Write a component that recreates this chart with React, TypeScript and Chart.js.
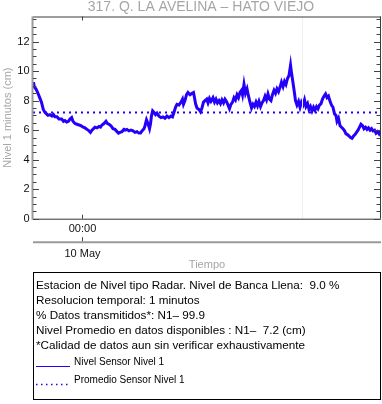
import React, { useEffect, useRef } from "react";
import { Chart, registerables } from "chart.js";

Chart.register(...registerables);

const TITLE = "317. Q. LA AVELINA – HATO VIEJO";
const Y_TITLE = "Nivel 1 minutos (cm)";
const X_TITLE = "Tiempo";
const X_TICK_HOURS = [0];
const X_TICK_LABELS = ["00:00"];
const X_DATE_LABELS = ["10 May"];
const X_FAINT_GRID = [24];
const X_MIN = -5.3;
const X_MAX = 32.6;
const Y_MIN = 0;
const Y_MAX = 13.7;
const Y_LABELS = [0, 2, 4, 6, 8, 10, 12];
const Y_MINOR_STEP = 0.5;
const MEAN_LEVEL = 7.2;

// hours relative to 10 May 00:00
const HOURS = [
  -5.3, -5.25, -5.14, -4.98, -4.76, -4.54, -4.38, -4.18, -4.0, -3.83, -3.67, -3.45, -3.24, -3.07, -2.91, -2.69,
  -2.47, -2.18, -1.98, -1.82, -1.63, -1.44, -1.27, -1.09, -0.95, -0.73, -0.51, -0.29, -0.08, 0.17, 0.36, 0.58,
  0.8, 0.96, 1.12, 1.29, 1.45, 1.67, 1.88, 2.05, 2.21, 2.43, 2.65, 2.81, 2.97, 3.19, 3.41, 3.63,
  3.85, 4.01, 4.17, 4.39, 4.61, 4.77, 4.93, 5.15, 5.37, 5.59, 5.81, 6.02, 6.24, 6.41, 6.57, 6.79,
  6.9, 7.06, 7.22, 7.39, 7.49, 7.6, 7.73, 7.88, 8.04, 8.2, 8.42, 8.64, 8.86, 9.07, 9.29, 9.51,
  9.73, 9.89, 10.05, 10.22, 10.38, 10.6, 10.82, 10.98, 11.09, 11.25, 11.42, 11.58, 11.8, 12.02, 12.18, 12.29,
  12.4, 12.56, 12.78, 12.94, 13.1, 13.27, 13.43, 13.62, 13.76, 13.92, 14.08, 14.3, 14.47, 14.63, 14.79, 14.96,
  15.12, 15.28, 15.45, 15.61, 15.77, 15.94, 16.1, 16.26, 16.43, 16.59, 16.75, 16.92, 17.08, 17.24, 17.41, 17.52,
  17.68, 17.84, 18.01, 18.17, 18.33, 18.5, 18.66, 18.82, 18.99, 19.15, 19.31, 19.48, 19.64, 19.8, 19.97, 20.13,
  20.29, 20.46, 20.62, 20.78, 20.95, 21.11, 21.27, 21.44, 21.6, 21.76, 21.93, 22.09, 22.25, 22.42, 22.58, 22.75,
  22.85, 23.02, 23.18, 23.29, 23.45, 23.62, 23.78, 23.94, 24.11, 24.27, 24.43, 24.6, 24.76, 24.92, 25.09, 25.25,
  25.41, 25.58, 25.74, 25.9, 26.07, 26.23, 26.39, 26.56, 26.72, 26.88, 27.05, 27.21, 27.37, 27.54, 27.7, 27.81,
  27.97, 28.14, 28.3, 28.46, 28.63, 28.79, 28.95, 29.12, 29.28, 29.44, 29.61, 29.77, 29.93, 30.1, 30.26, 30.42,
  30.59, 30.75, 30.92, 31.08, 31.24, 31.41, 31.57, 31.73, 31.9, 32.06, 32.22, 32.39, 32.55,
];

// level, cm
const LEVEL = [
  8.95, 9.25, 8.9, 8.8, 8.5, 8.15, 7.9, 7.4, 7.2, 7.1, 7.0, 7.05, 6.95, 7.05, 6.9, 6.9,
  6.75, 6.75, 6.6, 6.65, 6.55, 6.6, 6.75, 6.85, 6.6, 6.45, 6.4, 6.35, 6.3, 6.2, 6.15, 6.05,
  5.95, 5.85, 6.0, 6.1, 6.2, 6.15, 6.25, 6.2, 6.35, 6.45, 6.6, 6.45, 6.4, 6.3, 6.1, 6.05,
  5.9, 5.8, 5.85, 5.9, 6.05, 6.0, 6.05, 5.95, 6.0, 5.95, 5.85, 5.9, 5.8, 5.8, 5.95, 6.1,
  6.3, 6.7, 6.45, 6.1, 6.4, 6.95, 7.3, 7.2, 7.05, 7.15, 6.95, 6.85, 6.9, 6.8, 6.95, 6.85,
  6.95, 6.9, 7.2, 7.55, 7.75, 7.7, 7.9, 8.1, 7.75, 8.0, 8.4, 8.55, 8.4, 8.5, 8.55, 8.2,
  7.8, 7.5, 7.4, 7.25, 7.5, 7.9, 8.0, 8.1, 7.85, 8.15, 7.95, 8.2, 7.9, 8.1, 7.85, 8.0,
  7.8, 8.05, 7.85, 8.1, 7.95, 7.7, 7.45, 7.75, 7.9, 8.2, 8.05, 8.4, 8.2, 8.55, 8.7, 8.4,
  9.1, 8.5, 8.8, 8.3, 7.9, 7.5, 7.75, 7.6, 7.9, 7.65, 7.95, 7.6, 7.85, 8.0, 8.3, 8.05,
  8.45, 8.1, 8.0, 8.4, 8.7, 8.5, 8.8, 8.6, 8.9, 9.25, 8.95, 9.3, 9.1, 9.5, 9.7, 10.4,
  9.9, 9.2, 8.5, 8.0, 7.7, 7.95, 7.55, 7.9, 7.7, 8.05, 7.6, 7.8, 7.4, 7.6, 7.3, 7.55,
  7.35, 7.6, 7.45, 7.7, 7.8, 8.1, 8.3, 8.45, 8.2, 8.3, 7.95, 7.7, 7.55, 7.1, 7.0, 6.6,
  6.8, 6.3, 6.2, 6.1, 5.95, 5.75, 5.7, 5.6, 5.5, 5.45, 5.6, 5.7, 5.85, 6.0, 6.2, 6.4,
  6.3, 6.1, 6.2, 6.05, 6.15, 6.0, 6.1, 5.95, 6.0, 5.8, 5.9, 5.75, 5.95,
];

const INFO_LINES = [
  "Estacion de Nivel tipo Radar. Nivel de Banca Llena:  9.0 %",
  "Resolucion temporal: 1 minutos",
  "% Datos transmitidos*: N1\u2013 99.9",
  "Nivel Promedio en datos disponibles : N1\u2013  7.2 (cm)",
  "*Calidad de datos aun sin verificar exhaustivamente",
];
const LEGEND_LABELS = ["Nivel Sensor Nivel 1", "Promedio Sensor Nivel 1"];

const FONT = "'Liberation Sans', Arial, Helvetica, sans-serif";
const LINE_COLOR = "rgb(36, 0, 250)";
const GRAY_TEXT = "#a6a6a6";

const decorPlugin = {
  id: "decor",
  afterDraw(chart: any) {
    const { ctx, chartArea: a, scales } = chart;
    const x = scales.x;
    const y = scales.y;
    const seg = (x1: number, y1: number, x2: number, y2: number) => {
      ctx.beginPath();
      ctx.moveTo(x1, y1);
      ctx.lineTo(x2, y2);
      ctx.stroke();
    };
    ctx.save();

    // faint vertical grid
    ctx.strokeStyle = "#eeeeee";
    ctx.lineWidth = 1;
    X_FAINT_GRID.forEach((h) => {
      const px = Math.round(x.getPixelForValue(h)) + 0.5;
      seg(px, a.top, px, a.bottom);
    });

    // frame
    ctx.strokeStyle = "#3a3a3a";
    ctx.lineWidth = 1;
    seg(a.left, a.top + 0.5, a.right, a.top + 0.5);
    seg(a.right - 0.5, a.top, a.right - 0.5, a.bottom);
    ctx.strokeStyle = "#333333";
    seg(a.left, a.bottom + 0.5, a.right, a.bottom + 0.5);
    ctx.strokeStyle = "#9a9a9a";
    ctx.lineWidth = 2;
    seg(a.left - 0.5, a.top, a.left - 0.5, a.bottom + 1);

    // y ticks (inward, both sides)
    ctx.strokeStyle = "#444444";
    ctx.lineWidth = 1;
    for (let v = Y_MIN; v <= Y_MAX; v += Y_MINOR_STEP) {
      const py = Math.round(y.getPixelForValue(v)) + 0.5;
      const major = Y_LABELS.includes(v);
      const len = major ? 6 : 3.5;
      seg(a.left, py, a.left + len, py);
      seg(a.right - 1, py, a.right - 1 - len, py);
    }

    // y labels
    ctx.fillStyle = "#111111";
    ctx.font = `11px ${FONT}`;
    ctx.textAlign = "right";
    ctx.textBaseline = "middle";
    Y_LABELS.forEach((v) => {
      ctx.fillText(String(v), a.left - 3.5, y.getPixelForValue(v));
    });

    // second (date) axis line
    const dateAxisY = a.bottom + 23.5;
    ctx.strokeStyle = "#9a9a9a";
    ctx.lineWidth = 2;
    seg(a.left, dateAxisY, a.right, dateAxisY);

    // x ticks and labels
    ctx.strokeStyle = "#444444";
    ctx.lineWidth = 1;
    X_TICK_HOURS.forEach((h, i) => {
      const px = Math.round(x.getPixelForValue(h)) + 0.5;
      seg(px, a.bottom, px, a.bottom - 4);
      seg(px, a.top, px, a.top + 4);
      seg(px, dateAxisY - 1, px, dateAxisY - 5);
      ctx.fillStyle = "#111111";
      ctx.font = `11px ${FONT}`;
      ctx.textAlign = "center";
      ctx.textBaseline = "middle";
      ctx.fillText(X_TICK_LABELS[i], px, a.bottom + 10);
      ctx.fillText(X_DATE_LABELS[i], px, a.bottom + 35);
    });

    // titles
    ctx.fillStyle = GRAY_TEXT;
    ctx.font = `14px ${FONT}`;
    ctx.textAlign = "center";
    ctx.textBaseline = "alphabetic";
    ctx.fillText(TITLE, 201, 11);

    ctx.font = `11px ${FONT}`;
    ctx.textBaseline = "middle";
    ctx.fillText(X_TITLE, (a.left + a.right) / 2, a.bottom + 46);

    ctx.save();
    ctx.translate(7.5, (a.top + a.bottom) / 2);
    ctx.rotate(-Math.PI / 2);
    ctx.fillText(Y_TITLE, 0, 0);
    ctx.restore();

    // info / legend box
    ctx.strokeStyle = "#000000";
    ctx.lineWidth = 1;
    ctx.strokeRect(33.5, 272.5, 347, 127);
    ctx.fillStyle = "#000000";
    ctx.font = `11.7px ${FONT}`;
    ctx.textAlign = "left";
    ctx.textBaseline = "middle";
    INFO_LINES.forEach((t, i) => {
      ctx.fillText(t, 36, 286 + i * 15);
    });
    ctx.font = `10px ${FONT}`;
    const ly = [362, 380];
    LEGEND_LABELS.forEach((t, i) => {
      ctx.fillText(t, 74, ly[i]);
      ctx.strokeStyle = LINE_COLOR;
      if (i === 0) {
        ctx.lineWidth = 1.2;
        ctx.setLineDash([]);
      } else {
        ctx.lineWidth = 1.5;
        ctx.setLineDash([1.5, 3.5]);
      }
      seg(36, ly[i] + 4.5, 70, ly[i] + 4.5);
      ctx.setLineDash([]);
    });

    ctx.restore();
  },
};

export default function App() {
  const ref = useRef<HTMLCanvasElement | null>(null);

  useEffect(() => {
    if (!ref.current) return;
    const series = HOURS.map((h, i) => ({ x: h, y: LEVEL[i] }));
    const mean = [
      { x: X_MIN, y: MEAN_LEVEL },
      { x: X_MAX, y: MEAN_LEVEL },
    ];
    const chart = new Chart(ref.current, {
      type: "line",
      data: {
        datasets: [
          {
            label: LEGEND_LABELS[0],
            data: series,
            borderColor: LINE_COLOR,
            borderWidth: 3,
            pointRadius: 0,
            tension: 0,
          },
          {
            label: LEGEND_LABELS[1],
            data: mean,
            borderColor: LINE_COLOR,
            borderWidth: 2,
            borderDash: [2, 4],
            pointRadius: 0,
          },
        ],
      },
      options: {
        responsive: false,
        animation: false,
        devicePixelRatio: 1,
        layout: { padding: { left: 33, right: 1, top: 16.5, bottom: 404 - 218.7 } },
        plugins: { legend: { display: false }, tooltip: { enabled: false }, title: { display: false } },
        scales: {
          x: { type: "linear", min: X_MIN, max: X_MAX, display: false },
          y: { type: "linear", min: Y_MIN, max: Y_MAX, display: false },
        },
      },
      plugins: [decorPlugin],
    });
    return () => chart.destroy();
  }, []);

  return (
    <div style={{ position: "fixed", left: 0, top: 0, width: 382, height: 404, background: "#fff" }}>
      <canvas ref={ref} width={382} height={404} style={{ display: "block", width: 382, height: 404 }} />
    </div>
  );
}
